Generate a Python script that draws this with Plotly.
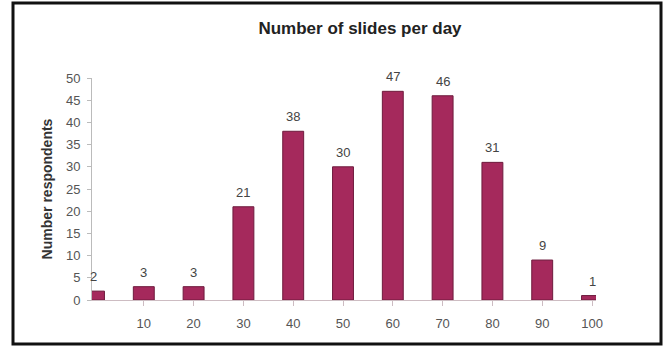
import plotly.graph_objects as go

categories = [0, 10, 20, 30, 40, 50, 60, 70, 80, 90, 100]
respondents = [2, 3, 3, 21, 38, 30, 47, 46, 31, 9, 1]
x_tick_vals = [10, 20, 30, 40, 50, 60, 70, 80, 90, 100]
y_tick_vals = [0, 5, 10, 15, 20, 25, 30, 35, 40, 45, 50]

W, H = 665, 350
L, R, T, B = 92, 69, 78, 50
pw, ph = W - L - R, H - T - B
FONT = "Liberation Sans, Arial"

fig = go.Figure(go.Bar(
    x=categories, y=respondents, width=4.2,
    marker=dict(color="#a5295c", line=dict(color="#6e1b3d", width=1)),
    cliponaxis=True,
))

for c, v in zip(categories, respondents):
    fig.add_annotation(x=c, y=v, text=str(v), showarrow=False, yanchor="bottom",
                       yshift=5, font=dict(family=FONT, size=13, color="#444"))

def px_to_paper_x(p):
    return (p - L) / pw

def px_to_paper_y(p):
    return (H - B - p) / ph

fig.add_shape(type="rect", xref="paper", yref="paper",
              x0=px_to_paper_x(13), x1=px_to_paper_x(661),
              y0=px_to_paper_y(344), y1=px_to_paper_y(3),
              line=dict(color="#111", width=3), fillcolor="rgba(0,0,0,0)")

fig.update_layout(
    width=W, height=H, margin=dict(l=L, r=R, t=T, b=B),
    paper_bgcolor="white", plot_bgcolor="white",
    showlegend=False,
    title=dict(text="<b>Number of slides per day</b>", x=360 / W,
               xanchor="center", y=1 - 28 / H, yanchor="middle",
               font=dict(family=FONT, size=17, color="#222")),
    xaxis=dict(range=[-0.4, 100.8], tickvals=x_tick_vals, ticktext=[str(v) for v in x_tick_vals],
               showgrid=False, zeroline=False, showline=True, linecolor="#cdbcc2", linewidth=1,
               ticks="outside", ticklen=5, tickcolor="#cdbcc2", ticklabelstandoff=6,
               tickfont=dict(family=FONT, size=13, color="#555")),
    yaxis=dict(range=[0, 50], tickvals=y_tick_vals, showgrid=False, zeroline=False,
               showline=True, linecolor="#bbb", linewidth=1,
               ticks="outside", ticklen=4, tickcolor="#bbb", ticklabelstandoff=4,
               tickfont=dict(family=FONT, size=13, color="#555"),
               title=dict(text="<b>Number respondents</b>", standoff=10,
                          font=dict(family=FONT, size=14, color="#333"))),
)

fig.write_html("out.html")
